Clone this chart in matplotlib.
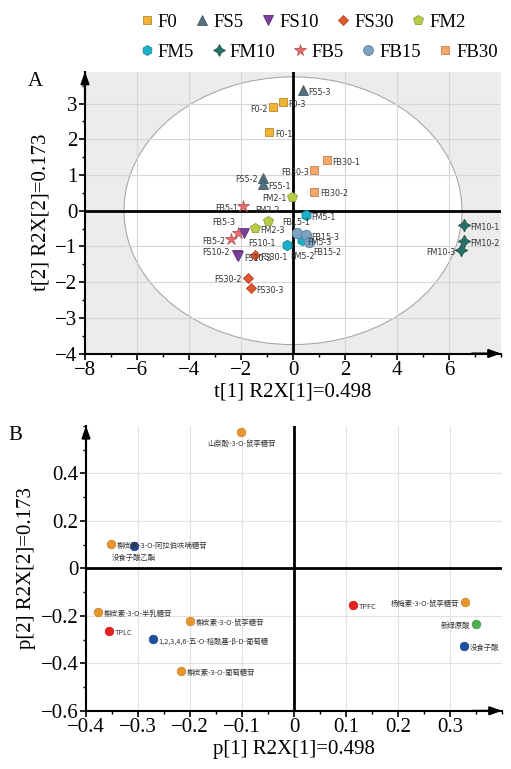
# =============================================================================
# PCA SCORE PLOT (A) AND LOADING PLOT (B)
# =============================================================================

import matplotlib
matplotlib.use("Agg")
import matplotlib.pyplot as plt
import matplotlib.colors as mcolors
from matplotlib.patches import Ellipse
from matplotlib.lines import Line2D
from matplotlib.ticker import MultipleLocator, FuncFormatter

plt.rcParams["font.family"] = ["Liberation Serif", "DejaVu Serif"]
plt.rcParams["axes.unicode_minus"] = True

# =============================================================================
# DATA : SCORES (PANEL A)
# =============================================================================

score_labels = [
    "FS5-3", "F0-3", "F0-2", "F0-1", "FB30-1", "FB30-3", "FS5-2", "FS5-1",
    "FB30-2", "FM2-1", "FB5-1", "FM2-2", "FM2-3", "FM5-1", "FB5-3", "FS10-1",
    "FB5-2", "FS10-2", "FS10-3", "FS30-1", "FS30-2", "FS30-3", "FM5-2",
    "FM5-3", "FB15-1", "FB15-3", "FB15-2", "FM10-1", "FM10-2", "FM10-3",
]

score_t1 = [
    0.37, -0.40, -0.76, -0.91, 1.31, 0.82, -1.15, -1.15,
    0.82, -0.04, -1.91, -0.97, -1.46, 0.50, -2.10, -1.87,
    -2.38, -2.17, -2.10, -1.46, -1.74, -1.63, -0.24,
    0.33, 0.14, 0.50, 0.63, 6.59, 6.59, 6.45,
]

score_t2 = [
    3.38, 3.04, 2.90, 2.20, 1.42, 1.13, 0.92, 0.75,
    0.53, 0.39, 0.13, -0.29, -0.49, -0.12, -0.63, -0.62,
    -0.80, -1.24, -1.27, -1.24, -1.88, -2.17, -0.96,
    -0.82, -0.63, -0.68, -0.87, -0.40, -0.85, -1.10,
]

group_names = ["F0", "FS5", "FS10", "FS30", "FM2",
               "FM5", "FM10", "FB5", "FB15", "FB30"]

# =============================================================================
# DATA : LOADINGS (PANEL B)
# =============================================================================

loading_labels = [
    "山奈酚-3-O-鼠李糖苷",
    "槲皮素-3-O-阿拉伯呋喃糖苷",
    "没食子酸乙酯",
    "槲皮素-3-O-半乳糖苷",
    "TPLC",
    "槲皮素-3-O-鼠李糖苷",
    "1,2,3,4,6-五-O-棓酰基-β-D-葡萄糖",
    "槲皮素-3-O-葡萄糖苷",
    "TPFC",
    "杨梅素-3-O-鼠李糖苷",
    "新绿原酸",
    "没食子酸",
]

loading_p1 = [-0.101, -0.351, -0.308, -0.376, -0.356, -0.200,
              -0.272, -0.217, 0.113, 0.328, 0.350, 0.327]

loading_p2 = [0.575, 0.102, 0.094, -0.183, -0.264, -0.221,
              -0.299, -0.432, -0.155, -0.141, -0.236, -0.327]

loading_class = ["flavonol", "flavonol", "gallate", "flavonol", "total",
                 "flavonol", "gallate", "flavonol", "total", "flavonol",
                 "acid", "gallate"]

# =============================================================================
# STYLES
# =============================================================================

group_style = {
    "F0":   ("s", "#F2B233", 6.0),
    "FS5":  ("^", "#52707F", 7.0),
    "FS10": ("v", "#7B3F9C", 7.0),
    "FS30": ("D", "#E4572E", 5.5),
    "FM2":  ("p", "#B8CC48", 7.5),
    "FM5":  ("h", "#1BB0C6", 7.5),
    "FM10": ((4, 1, 0), "#2A6F66", 9.0),
    "FB5":  ("*", "#E76F6F", 9.0),
    "FB15": ("o", "#7BA3C6", 7.5),
    "FB30": ("s", "#F4A66B", 6.0),
}

class_color = {
    "flavonol": "#E8952E",
    "gallate": "#1F4FA0",
    "total": "#E8201F",
    "acid": "#4CAF50",
}

# label placement (offset points, ha, va)
place = {
    "r": (4, -1.5, "left", "center"),
    "l": (-4, -1.5, "right", "center"),
    "a": (0, 7.5, "center", "center"),
    "b": (0, -8.5, "center", "center"),
    "br": (2.5, -8, "left", "center"),
    "al": (-2, 7.5, "right", "center"),
    "al2": (-5, 2, "right", "center"),
}

score_place = {
    "F0-2": "l", "FB30-3": "l", "FS5-2": "l", "FM2-1": "l", "FB5-1": "l",
    "FM2-2": "a", "FB5-3": "al", "FS10-1": "br", "FB5-2": "l",
    "FS10-2": "al2", "FS30-2": "l", "FM5-2": "br", "FB15-1": "a",
    "FB15-2": "br", "FM10-3": "l",
}

loading_place = {
    "山奈酚-3-O-鼠李糖苷": "b",
    "没食子酸乙酯": "b",
    "杨梅素-3-O-鼠李糖苷": "l",
    "新绿原酸": "l",
}

label_font_a = ["Liberation Sans Narrow", "DejaVu Sans"]
label_font_b = ["Noto Sans CJK SC", "DejaVu Sans"]


def darker(color, f=0.78):
    r, g, b = mcolors.to_rgb(color)
    return (r * f, g * f, b * f)


def fmt_tick(v, pos):
    s = "%g" % round(v, 3)
    return s.replace("-", "\u2212")


def style_axes(ax):
    for side in ["top", "right"]:
        ax.spines[side].set_visible(False)
    for side in ["left", "bottom"]:
        ax.spines[side].set_linewidth(1.5)
        ax.spines[side].set_color("black")
    ax.tick_params(which="major", direction="out", length=4, width=1.2,
                   labelsize=15, pad=1.5)
    ax.tick_params(which="minor", direction="out", length=2.5, width=1.0)
    ax.xaxis.set_major_formatter(FuncFormatter(fmt_tick))
    ax.yaxis.set_major_formatter(FuncFormatter(fmt_tick))
    ax.axhline(0, color="black", lw=2, zorder=2)
    ax.axvline(0, color="black", lw=2, zorder=2)
    arrow = dict(arrowstyle="-|>,head_length=0.7,head_width=0.25",
                 color="black", lw=1.5, shrinkA=0, shrinkB=0)
    ax.annotate("", xy=(0, 1.0), xycoords="axes fraction",
                xytext=(0, 0.9), arrowprops=arrow, annotation_clip=False)
    ax.annotate("", xy=(1.0, 0), xycoords="axes fraction",
                xytext=(0.93, 0), arrowprops=arrow, annotation_clip=False)


# =============================================================================
# FIGURE
# =============================================================================

fig = plt.figure(figsize=(5.11, 7.69), dpi=100)

ax_a = fig.add_axes([0.1663, 0.5403, 0.8141, 0.3667])
ax_b = fig.add_axes([0.1683, 0.0757, 0.8141, 0.3706])

# -----------------------------------------------------------------------------
# PANEL A
# -----------------------------------------------------------------------------

ax_a.set_facecolor("#ececec")
ax_a.set_axisbelow(True)
ax_a.add_patch(Ellipse((0, 0), 2 * 6.5, 2 * 3.75, facecolor="white",
                       edgecolor="#a8a8a8", lw=0.8, zorder=0.3))

for lab, x, y in zip(score_labels, score_t1, score_t2):
    grp = lab.rsplit("-", 1)[0]
    mk, col, ms = group_style[grp]
    ax_a.plot(x, y, marker=mk, ms=ms, color=col, mec=darker(col),
              mew=0.6, ls="none", zorder=3)
    dx, dy, ha, va = place[score_place.get(lab, "r")]
    ax_a.annotate(lab, (x, y), xytext=(dx, dy), textcoords="offset points",
                  ha=ha, va=va, fontsize=5.8, color="#333333",
                  family=label_font_a, zorder=4)

ax_a.set_xlim(-8, 8)
ax_a.set_ylim(-4, 3.9)
ax_a.set_xticks([-8, -6, -4, -2, 0, 2, 4, 6])
ax_a.set_yticks([-4, -3, -2, -1, 0, 1, 2, 3])
ax_a.xaxis.set_minor_locator(MultipleLocator(1))
ax_a.yaxis.set_minor_locator(MultipleLocator(0.5))
ax_a.grid(True, which="major", color="#d6d6d6", lw=0.8)
style_axes(ax_a)
ax_a.set_xlabel("t[1] R2X[1]=0.498", fontsize=15, labelpad=2)
ax_a.set_ylabel("t[2] R2X[2]=0.173", fontsize=15, labelpad=3)
fig.text(35 / 511, 1 - 82 / 769, "A", fontsize=15, ha="center", va="center")

# -----------------------------------------------------------------------------
# PANEL B
# -----------------------------------------------------------------------------

ax_b.set_axisbelow(True)

for lab, x, y, cls in zip(loading_labels, loading_p1, loading_p2,
                          loading_class):
    col = class_color[cls]
    ax_b.plot(x, y, marker="o", ms=6.2, color=col, mec=darker(col, 0.85),
              mew=0.5, ls="none", zorder=3)
    dx, dy, ha, va = place[loading_place.get(lab, "r")]
    ax_b.annotate(lab, (x, y), xytext=(dx, dy), textcoords="offset points",
                  ha=ha, va=va, fontsize=5.3, color="#333333",
                  family=label_font_b, zorder=4)

ax_b.set_xlim(-0.4, 0.4)
ax_b.set_ylim(-0.6, 0.6)
ax_b.set_xticks([-0.4, -0.3, -0.2, -0.1, 0, 0.1, 0.2, 0.3])
ax_b.set_yticks([-0.6, -0.4, -0.2, 0, 0.2, 0.4])
ax_b.xaxis.set_minor_locator(MultipleLocator(0.05))
ax_b.yaxis.set_minor_locator(MultipleLocator(0.1))
ax_b.grid(True, which="major", color="#e2e2e2", lw=0.8)
style_axes(ax_b)
ax_b.set_xlabel("p[1] R2X[1]=0.498", fontsize=15, labelpad=2)
ax_b.set_ylabel("p[2] R2X[2]=0.173", fontsize=15, labelpad=3)
fig.text(15 / 511, 1 - 436 / 769, "B", fontsize=15, ha="center", va="center")

# -----------------------------------------------------------------------------
# LEGEND (two rows)
# -----------------------------------------------------------------------------

def handle(grp):
    mk, col, ms = group_style[grp]
    return Line2D([], [], marker=mk, ms=ms * 0.95, color=col,
                  mec=darker(col), mew=0.6, ls="none")


for row, yc in [(group_names[:5], 22), (group_names[5:], 52)]:
    fig.legend([handle(g) for g in row], row, loc="center left",
               bbox_to_anchor=(141 / 511, 1 - yc / 769), ncol=5,
               frameon=False, fontsize=13.5, handlelength=0.6,
               handletextpad=0.3, columnspacing=1.0, borderpad=0,
               borderaxespad=0)

fig.savefig("out.png", dpi=100)
